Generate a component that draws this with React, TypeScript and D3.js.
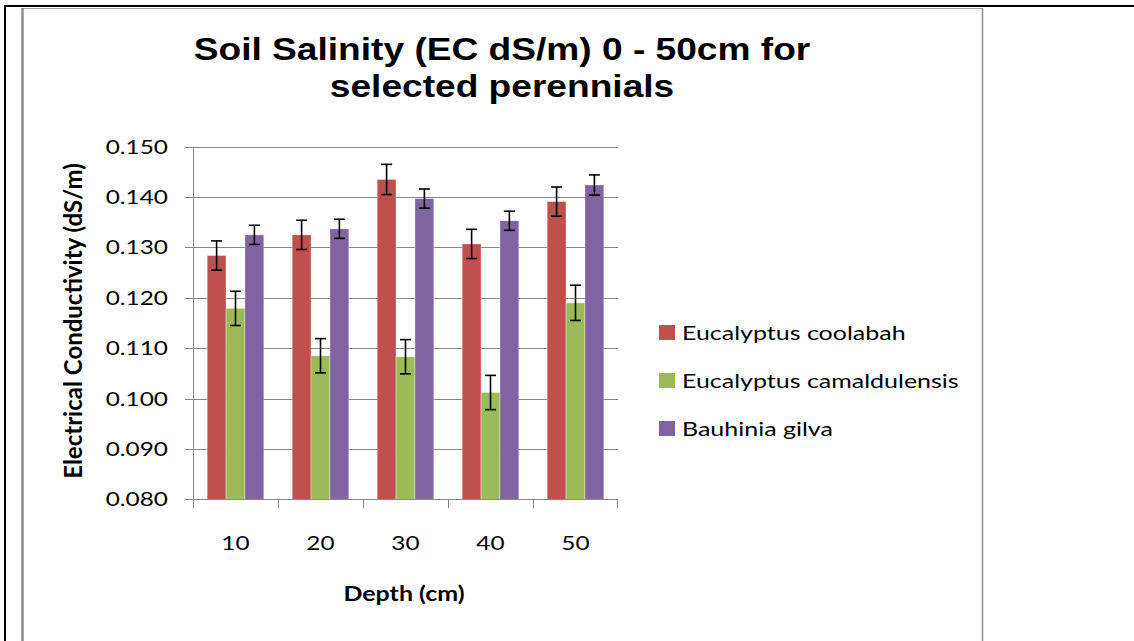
import React from 'react';
import * as d3 from 'd3';

const depths = ['10', '20', '30', '40', '50'];
const seriesNames = ['Eucalyptus coolabah', 'Eucalyptus camaldulensis', 'Bauhinia gilva'];
const seriesColors = ['#C0504D', '#9BBB59', '#8064A2'];

const coolabah = [0.1284, 0.1325, 0.1435, 0.1307, 0.1391];
const coolabahErr = [0.0029, 0.0029, 0.003, 0.0029, 0.0029];
const camaldulensis = [0.1179, 0.1085, 0.1083, 0.1012, 0.119];
const camaldulensisErr = [0.0034, 0.0034, 0.0034, 0.0034, 0.0035];
const gilva = [0.1325, 0.1337, 0.1397, 0.1353, 0.1424];
const gilvaErr = [0.0019, 0.0019, 0.0019, 0.0019, 0.002];

const yTicks = [0.08, 0.09, 0.1, 0.11, 0.12, 0.13, 0.14, 0.15];

const values = [coolabah, camaldulensis, gilva];
const errors = [coolabahErr, camaldulensisErr, gilvaErr];

// the source picture is stretched sideways, so text gets the same stretch
const SX = 1.25;
const TITLE_SX = 1.16;
const W = 1134;
const H = 641;
const plot = { left: 193, right: 618, top: 146.7, bottom: 499.3 };
const labelFont = 'Lato, "Open Sans", sans-serif';

export default function App() {
  const x0 = d3.scaleBand().domain(depths).range([plot.left, plot.right]).padding(0);
  const x1 = d3.scaleBand<number>()
    .domain([0, 1, 2])
    .range([0, x0.bandwidth()])
    .paddingInner(0)
    .paddingOuter(0.75);
  const y = d3.scaleLinear().domain([0.08, 0.15]).range([plot.bottom, plot.top]);
  const fmt = d3.format('.3f');
  const grid = '#868686';
  const cap = 5.5;

  const bars: JSX.Element[] = [];
  const errs: JSX.Element[] = [];
  values.forEach((vals, s) => {
    vals.forEach((v, i) => {
      const bx = (x0(depths[i]) as number) + (x1(s) as number);
      const bw = x1.bandwidth();
      bars.push(
        <rect key={`b${s}-${i}`} x={bx} y={y(v)} width={bw} height={y(0.08) - y(v)}
          fill={seriesColors[s]} stroke="#ffffff" strokeOpacity={0.45} strokeWidth={0.8} />
      );
      const cx = bx + bw / 2;
      const hi = y(v + errors[s][i]);
      const lo = y(v - errors[s][i]);
      errs.push(
        <g key={`e${s}-${i}`} stroke="#000" strokeWidth={1.6}>
          <line x1={cx} x2={cx} y1={hi} y2={lo} />
          <line x1={cx - cap} x2={cx + cap} y1={hi} y2={hi} />
          <line x1={cx - cap} x2={cx + cap} y1={lo} y2={lo} />
        </g>
      );
    });
  });

  return (
    <svg width={W} height={H} style={{ position: 'absolute', left: 0, top: 0, background: '#fff' }}>
      {/* outer page frame */}
      <line x1={4} x2={W} y1={6} y2={6} stroke="#000" strokeWidth={2} />
      <line x1={5} x2={5} y1={5} y2={H} stroke="#000" strokeWidth={2} />
      {/* chart area frame */}
      <line x1={22.5} x2={983} y1={8.5} y2={8.5} stroke="#a6a6a6" strokeWidth={1} />
      <line x1={22.5} x2={22.5} y1={8} y2={H} stroke="#8c8c8c" strokeWidth={2.5} />
      <line x1={982.5} x2={982.5} y1={8} y2={H} stroke="#8c8c8c" strokeWidth={1.5} />

      {/* title */}
      <g fontFamily='"Liberation Sans", Arial, sans-serif' fontWeight="bold" fontSize={32} fill="#000">
        <text transform={`translate(502,60) scale(${TITLE_SX},1)`} textAnchor="middle">
          Soil Salinity (EC dS/m) 0 - 50cm for
        </text>
        <text transform={`translate(502,97) scale(${TITLE_SX},1)`} textAnchor="middle">
          selected perennials
        </text>
      </g>

      {/* gridlines and y ticks */}
      {yTicks.map(t => (
        <g key={t}>
          <line x1={plot.left - 8} x2={plot.right} y1={Math.round(y(t)) + 0.5} y2={Math.round(y(t)) + 0.5}
            stroke={grid} strokeWidth={1} />
          <text transform={`translate(168,${y(t)}) scale(${SX},1)`} textAnchor="end" dy="0.36em"
            fontFamily={labelFont} fontSize={19.5} fill="#000">
            {fmt(t)}
          </text>
        </g>
      ))}

      {/* y axis line */}
      <line x1={plot.left + 0.5} x2={plot.left + 0.5} y1={plot.top} y2={plot.bottom} stroke={grid} strokeWidth={1} />

      {bars}
      {errs}

      {/* x axis */}
      <line x1={plot.left} x2={plot.right} y1={Math.round(plot.bottom) + 0.5} y2={Math.round(plot.bottom) + 0.5}
        stroke={grid} strokeWidth={1} />
      {depths.map(d => (
        <line key={`t${d}`} x1={(x0(d) as number) + 0.5} x2={(x0(d) as number) + 0.5}
          y1={plot.bottom} y2={plot.bottom + 9} stroke={grid} strokeWidth={1} />
      ))}
      <line x1={plot.right - 0.5} x2={plot.right - 0.5} y1={plot.bottom} y2={plot.bottom + 9} stroke={grid} strokeWidth={1} />
      {depths.map(d => (
        <text key={`l${d}`} transform={`translate(${(x0(d) as number) + x0.bandwidth() / 2},550) scale(${SX},1)`}
          textAnchor="middle" fontFamily={labelFont} fontSize={19.5} fill="#000">
          {d}
        </text>
      ))}

      {/* axis titles */}
      <text transform={`translate(404,601) scale(${SX},1)`} textAnchor="middle"
        fontFamily={labelFont} fontWeight="bold" fontSize={20} fill="#000">
        Depth (cm)
      </text>
      <text transform="translate(82,321) rotate(-90)" textAnchor="middle"
        fontFamily={labelFont} fontWeight="bold" fontSize={24} fill="#000">
        Electrical Conductivity (dS/m)
      </text>

      {/* legend */}
      {seriesNames.map((name, i) => (
        <g key={name}>
          <rect x={659} y={325 + i * 48} width={16} height={15} fill={seriesColors[i]} />
          <text transform={`translate(682,${340 + i * 48}) scale(${SX},1)`}
            fontFamily={labelFont} fontSize={20} fill="#000">
            {name}
          </text>
        </g>
      ))}
    </svg>
  );
}
